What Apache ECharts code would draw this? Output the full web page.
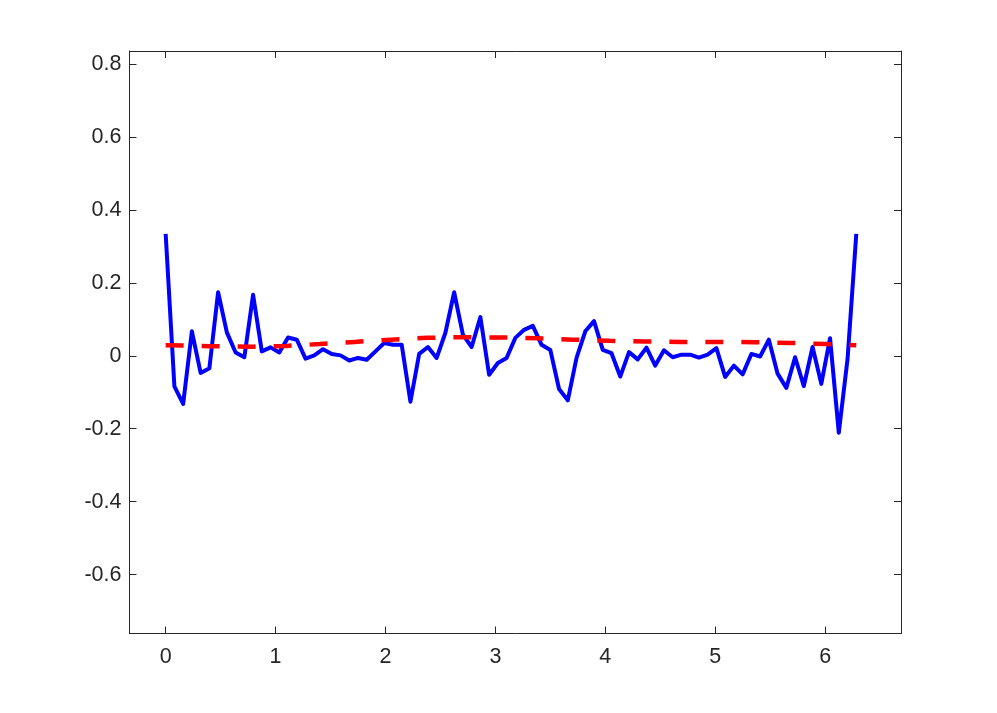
<!DOCTYPE html>
<html>
<head>
<meta charset="utf-8">
<script src="https://cdn.jsdelivr.net/npm/echarts@6/dist/echarts.min.js"></script>
<style>
  html, body { margin: 0; padding: 0; background: #fff; }
  #chart { width: 997px; height: 713px; }
</style>
</head>
<body>
<div id="chart"></div>
<script>
  // sample positions, 0 .. 2*pi (80 points)
  const xs = [
    0, 0.0795, 0.1591, 0.2386, 0.3181, 0.3977, 0.4772, 0.5567, 0.6363, 0.7158,
    0.7953, 0.8749, 0.9544, 1.0339, 1.1135, 1.1930, 1.2725, 1.3521, 1.4316, 1.5111,
    1.5907, 1.6702, 1.7497, 1.8293, 1.9088, 1.9883, 2.0679, 2.1474, 2.2269, 2.3065,
    2.3860, 2.4655, 2.5451, 2.6246, 2.7041, 2.7837, 2.8632, 2.9427, 3.0223, 3.1018,
    3.1813, 3.2609, 3.3404, 3.4199, 3.4995, 3.5790, 3.6585, 3.7381, 3.8176, 3.8971,
    3.9767, 4.0562, 4.1357, 4.2153, 4.2948, 4.3743, 4.4539, 4.5334, 4.6129, 4.6925,
    4.7720, 4.8515, 4.9311, 5.0106, 5.0901, 5.1697, 5.2492, 5.3287, 5.4083, 5.4878,
    5.5673, 5.6469, 5.7264, 5.8059, 5.8855, 5.9650, 6.0445, 6.1241, 6.2036, 6.2832
  ]

  // blue solid curve
  const blueY = [
    0.334, -0.084, -0.132, 0.067, -0.047, -0.034, 0.174, 0.064, 0.009, -0.004,
    0.167, 0.012, 0.023, 0.009, 0.050, 0.044, -0.008, 0.001, 0.018, 0.005,
    0.001, -0.013, -0.006, -0.011, 0.012, 0.035, 0.030, 0.030, -0.126, 0.005,
    0.024, -0.006, 0.063, 0.174, 0.058, 0.024, 0.106, -0.052, -0.020, -0.006,
    0.049, 0.071, 0.082, 0.030, 0.016, -0.091, -0.122, -0.006, 0.067, 0.095,
    0.016, 0.007, -0.057, 0.010, -0.010, 0.022, -0.027, 0.015, -0.004, 0.003,
    0.003, -0.005, 0.003, 0.021, -0.058, -0.027, -0.051, 0.005, -0.002, 0.044,
    -0.049, -0.088, -0.004, -0.083, 0.024, -0.077, 0.048, -0.211, -0.009, 0.334
  ]

  // red dashed curve
  const redX = [0, 0.40, 0.80, 1.10, 1.40, 1.72, 2.05, 2.38, 2.73, 3.06,
    3.38, 3.71, 4.04, 4.36, 4.69, 5.02, 5.36, 5.69, 6.01, 6.2832]
  const redY = [0.029, 0.026, 0.025, 0.027, 0.032, 0.038, 0.044, 0.049, 0.051, 0.050,
    0.048, 0.044, 0.041, 0.039, 0.038, 0.038, 0.037, 0.035, 0.032, 0.029]

  const xTicks = [0, 1, 2, 3, 4, 5, 6]
  const yTicks = [-0.6, -0.4, -0.2, 0, 0.2, 0.4, 0.6, 0.8]

  const axisColor = '#262626'
  const labelFont = 'Liberation Sans, Arial, sans-serif'
  const xMin = -0.329
  const xMax = 6.69
  const yMin = -0.761
  const yMax = 0.835

  const chart = echarts.init(document.getElementById('chart'), null, { renderer: 'canvas' })

  function xAxisCfg(pos, showLabels) {
    return {
      type: 'value',
      position: pos,
      min: xMin,
      max: xMax,
      axisLine: { show: true, onZero: false, lineStyle: { color: axisColor, width: 1 } },
      axisTick: { show: true, inside: true, length: 7, customValues: xTicks, lineStyle: { color: axisColor } },
      axisLabel: {
        show: showLabels,
        customValues: xTicks,
        margin: 13,
        color: axisColor,
        fontSize: 21.5,
        fontFamily: labelFont
      },
      splitLine: { show: false }
    }
  }

  function yAxisCfg(pos, showLabels) {
    return {
      type: 'value',
      position: pos,
      min: yMin,
      max: yMax,
      axisLine: { show: true, onZero: false, lineStyle: { color: axisColor, width: 1 } },
      axisTick: { show: true, inside: true, length: 7, customValues: yTicks, lineStyle: { color: axisColor } },
      axisLabel: {
        show: showLabels,
        customValues: yTicks,
        margin: 8,
        padding: [5, 0, 0, 0],
        color: axisColor,
        fontSize: 21.5,
        fontFamily: labelFont,
        formatter: v => String(Math.round(v * 10) / 10)
      },
      splitLine: { show: false }
    }
  }

  chart.setOption({
    animation: false,
    backgroundColor: '#ffffff',
    grid: { left: 129.5, right: 96, top: 51, bottom: 79.5, containLabel: false },
    xAxis: [xAxisCfg('bottom', true), xAxisCfg('top', false)],
    yAxis: [yAxisCfg('left', true), yAxisCfg('right', false)],
    series: [
      {
        type: 'line',
        data: xs.map((x, i) => [x, blueY[i]]),
        showSymbol: false,
        lineStyle: { color: '#0000ff', width: 4, join: 'round' },
        z: 2
      },
      {
        type: 'line',
        data: redX.map((x, i) => [x, redY[i]]),
        showSymbol: false,
        lineStyle: { color: '#ff0000', width: 4.5, type: [18, 18] },
        z: 3
      }
    ]
  })
</script>
</body>
</html>
